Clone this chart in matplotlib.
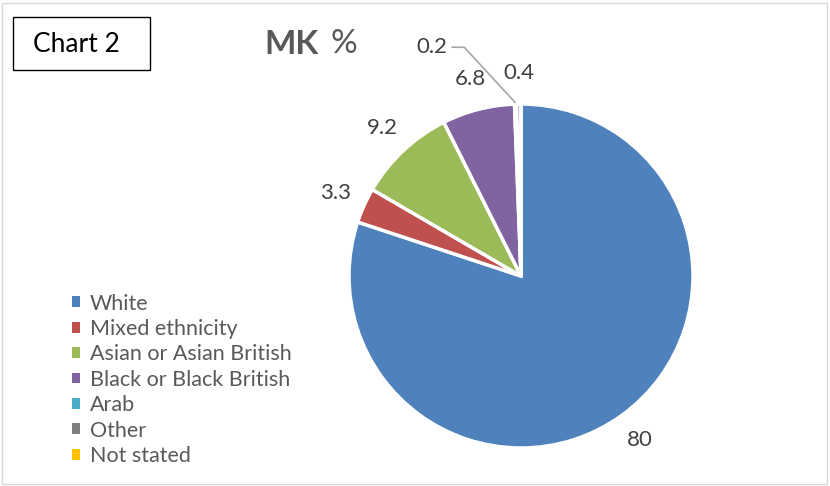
import matplotlib.pyplot as plt
import numpy as np
from matplotlib.patches import Rectangle

plt.rcParams['font.family'] = ['Lato', 'DejaVu Sans']

# données
groups = ['White', 'Mixed ethnicity', 'Asian or Asian British', 'Black or Black British',
          'Arab', 'Other', 'Not stated']
values = [80, 3.3, 9.2, 6.8, 0.2, 0.4, 0]
value_labels = ['80', '3.3', '9.2', '6.8', '0.2', '0.4', '']
colors = ['#4F81BD', '#C0504D', '#9BBB59', '#8064A2', '#4BACC6', '#7F7F7F', '#FFC000']

W, H = 830, 486
fig = plt.figure(figsize=(W / 100, H / 100), dpi=100)

# cadre extérieur
fig.patches.append(Rectangle((2 / W, 2 / H), (W - 5) / W, (H - 5) / H, transform=fig.transFigure,
                             fill=False, edgecolor='#d9d9d9', linewidth=1))

# axe du camembert, centré en pixels
cx, cy, R = 521, 276, 172
lim = 1.4
size = 2 * lim * R
ax = fig.add_axes([(cx - size / 2) / W, (H - cy - size / 2) / H, size / W, size / H])

wedges, _ = ax.pie(values, colors=colors, startangle=90, counterclock=False, radius=1,
                   wedgeprops=dict(edgecolor='white', linewidth=2.5))
# pie() impose ses propres limites, on les remet après
ax.set_xlim(-lim, lim)
ax.set_ylim(-lim, lim)
ax.set_aspect('equal')
ax.axis('off')

text_col = '#404040'
for w, lab, name in zip(wedges, value_labels, groups):
    if not lab:
        continue
    ang = np.deg2rad((w.theta1 + w.theta2) / 2)
    if name == 'Arab':
        # étiquette déplacée avec ligne de rappel
        ax.text(-0.52, 1.33, lab, ha='center', va='center', fontsize=16, color=text_col)
        ax.plot([-0.40, -0.33, -0.035], [1.33, 1.33, 1.01], color='#a6a6a6', lw=1.2,
                clip_on=False)
        continue
    r = 1.18
    ax.text(r * np.cos(ang), r * np.sin(ang), lab, ha='center', va='center',
            fontsize=16, color=text_col)

# légende
leg = fig.legend(wedges, groups, loc='upper left', bbox_to_anchor=(63 / W, 1 - 285 / H),
                 frameon=False, fontsize=15.5, handlelength=0.4, handleheight=0.4,
                 handletextpad=0.45, labelspacing=0.25, borderaxespad=0)
for t in leg.get_texts():
    t.set_color('#595959')
for h in leg.legend_handles:
    h.set_edgecolor('none')

# titre
fig.text(264 / W, 1 - 44 / H, 'MK', fontsize=24, fontweight='bold', color='#595959',
         ha='left', va='center')
fig.text(330 / W, 1 - 44 / H, '%', fontsize=24, color='#595959', ha='left', va='center')

# boîte "Chart 2"
fig.patches.append(Rectangle((13 / W, 1 - 70 / H), 137 / W, 53 / H, transform=fig.transFigure,
                             fill=False, edgecolor='black', linewidth=1))
fig.text(76 / W, 1 - 45 / H, 'Chart 2', fontsize=19, color='black', ha='center', va='center')

plt.savefig('out.png', dpi=100)
